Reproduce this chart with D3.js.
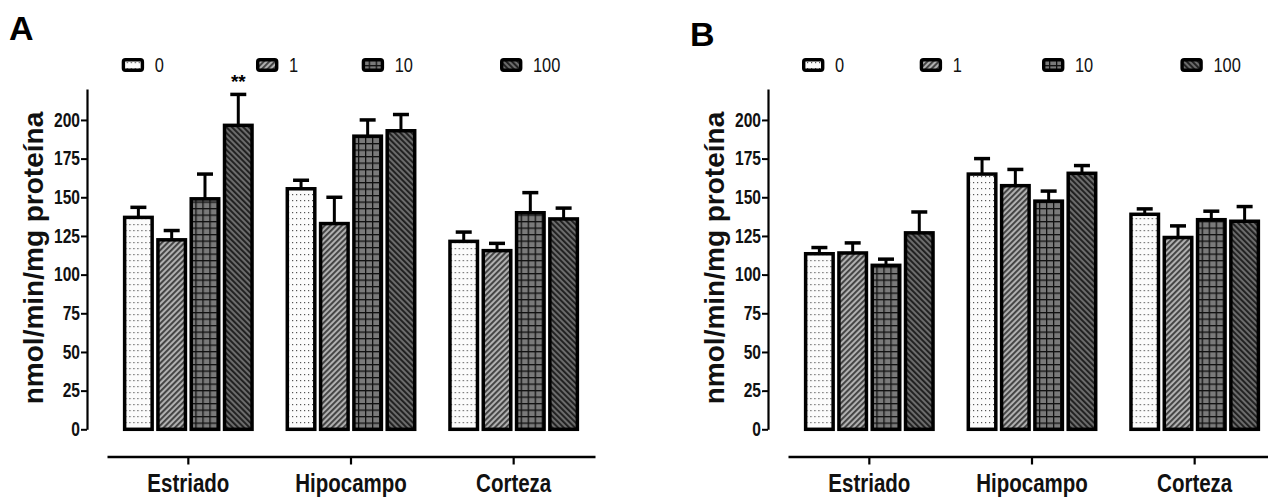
<!DOCTYPE html>
<html>
<head>
<meta charset="utf-8">
<script src="https://cdn.jsdelivr.net/npm/d3@7"></script>
<style>
  body { margin: 0; background: #fff; }
  svg { display: block; }
  .tick text { font-family: "Liberation Sans", Arial, sans-serif; font-weight: bold; }
</style>
</head>
<body>
<div id="chart"></div>
<script>
// categories and doses
var categories = ["Estriado", "Hipocampo", "Corteza"]
var doses = ["0", "1", "10", "100"]
var yTicks = [0, 25, 50, 75, 100, 125, 150, 175, 200]

// panel A: means and sem (rows = categories, cols = doses)
var meansA = [[137, 122.5, 149, 196.5], [155.5, 133, 189.5, 193], [121.5, 115.5, 140, 136]]
var semA = [[6.5, 6, 16, 20], [5.5, 17, 10.5, 10.5], [6, 4.7, 13, 7]]

// panel B
var meansB = [[113.5, 114, 106, 127], [165, 157.5, 147.5, 165.5], [139, 124, 135.5, 134.5]]
var semB = [[4, 6.5, 4, 13.5], [10, 10.5, 6.5, 5], [3.5, 7.5, 5.5, 9.5]]

var width = 1268, height = 497

var svg = d3.select("#chart").append("svg")
    .attr("width", width)
    .attr("height", height)

var defs = svg.append("defs")

// dotted (0)
var p0 = defs.append("pattern").attr("id", "pat0")
    .attr("patternUnits", "userSpaceOnUse").attr("width", 4).attr("height", 6)
p0.append("rect").attr("width", 4).attr("height", 6).attr("fill", "#fbfbfb")
p0.append("rect").attr("x", 1).attr("y", 2).attr("width", 1.2).attr("height", 1.2).attr("fill", "#555")

// light diagonal "/" (1)
var p1 = defs.append("pattern").attr("id", "pat1")
    .attr("patternUnits", "userSpaceOnUse").attr("width", 4).attr("height", 4)
    .attr("patternTransform", "rotate(45)")
p1.append("rect").attr("width", 4).attr("height", 4).attr("fill", "#b0b0b0")
p1.append("rect").attr("width", 1.9).attr("height", 4).attr("fill", "#404040")

// grid (10)
var p2 = defs.append("pattern").attr("id", "pat2")
    .attr("patternUnits", "userSpaceOnUse").attr("width", 7).attr("height", 6.5)
p2.append("rect").attr("width", 7).attr("height", 6.5).attr("fill", "#7a7a7a")
p2.append("rect").attr("width", 1.3).attr("height", 6.5).attr("fill", "#111")
p2.append("rect").attr("width", 7).attr("height", 1.3).attr("fill", "#111")

// dark diagonal "\" (100)
var p3 = defs.append("pattern").attr("id", "pat3")
    .attr("patternUnits", "userSpaceOnUse").attr("width", 4).attr("height", 4)
    .attr("patternTransform", "rotate(-45)")
p3.append("rect").attr("width", 4).attr("height", 4).attr("fill", "#6c6c6c")
p3.append("rect").attr("width", 1.9).attr("height", 4).attr("fill", "#1e1e1e")

var fills = ["url(#pat0)", "url(#pat1)", "url(#pat2)", "url(#pat3)"]

var y = d3.scaleLinear()
    .domain([0, 220])
    .range([429.3, 89])

// squeeze text horizontally, the original uses a narrow face
function condense(sel, k) {
	sel.each(function() {
		var w = this.getComputedTextLength()
		d3.select(this)
		    .attr("textLength", w * k)
		    .attr("lengthAdjust", "spacingAndGlyphs")
	})
}

function drawPanel(offsetX, letter, letterY, means, sems, legendX) {

	var g = svg.append("g").attr("transform", "translate(" + offsetX + ",0)")

	var axisX = 87

	var x0 = d3.scaleBand()
	    .domain(categories)
	    .range([107, 595])

	var x1 = d3.scaleBand()
	    .domain(doses)
	    .range([-63.7, 63.7])
	    .paddingInner(0.174)

	// panel letter
	g.append("text")
	    .attr("x", 9)
	    .attr("y", letterY)
	    .attr("font-family", "Liberation Sans, Arial, sans-serif")
	    .attr("font-weight", "bold")
	    .attr("font-size", 34)
	    .text(letter)

	// y axis
	var yAxis = g.append("g")
	    .attr("transform", "translate(" + axisX + ",0)")
	    .call(d3.axisLeft(y).tickValues(yTicks).tickSize(6).tickSizeOuter(0).tickPadding(1))

	yAxis.select(".domain").attr("stroke", "#000").attr("stroke-width", 2.2)
	yAxis.selectAll(".tick line").attr("stroke", "#000").attr("stroke-width", 2)
	yAxis.selectAll(".tick text").attr("font-size", 19.5).attr("fill", "#111").call(condense, 0.8)

	// y title
	g.append("text")
	    .attr("transform", "translate(43,258) rotate(-90)")
	    .attr("text-anchor", "middle")
	    .attr("font-family", "Liberation Sans, Arial, sans-serif")
	    .attr("font-weight", "bold")
	    .attr("font-size", 28)
	    .attr("fill", "#111")
	    .text("nmol/min/mg proteína")

	// x axis
	var xAxis = g.append("g")
	    .attr("transform", "translate(0,456.5)")
	    .call(d3.axisBottom(x0).tickSize(8).tickSizeOuter(0).tickPadding(9.5))

	xAxis.select(".domain").attr("stroke", "#000").attr("stroke-width", 2.5)
	xAxis.selectAll(".tick line").attr("stroke", "#000").attr("stroke-width", 2.2)
	xAxis.selectAll(".tick text").attr("font-size", 25).attr("fill", "#111").call(condense, 0.82)

	var groups = g.selectAll(".grp")
	    .data(categories)
	    .enter().append("g")
	    .attr("class", "grp")
	    .attr("transform", d => "translate(" + (x0(d) + x0.bandwidth() / 2) + ",0)")

	var rows = function(d, i) {
		return doses.map((dose, j) => ({ dose: dose, j: j, v: means[i][j], e: sems[i][j] }))
	}

	// error bars (upper only)
	groups.selectAll(".err")
	    .data(rows)
	    .enter().append("line")
	    .attr("x1", d => x1(d.dose) + x1.bandwidth() / 2)
	    .attr("x2", d => x1(d.dose) + x1.bandwidth() / 2)
	    .attr("y1", d => y(d.v))
	    .attr("y2", d => y(d.v + d.e))
	    .attr("stroke", "#000")
	    .attr("stroke-width", 3)

	groups.selectAll(".cap")
	    .data(rows)
	    .enter().append("line")
	    .attr("x1", d => x1(d.dose) + x1.bandwidth() / 2 - 8)
	    .attr("x2", d => x1(d.dose) + x1.bandwidth() / 2 + 8)
	    .attr("y1", d => y(d.v + d.e))
	    .attr("y2", d => y(d.v + d.e))
	    .attr("stroke", "#000")
	    .attr("stroke-width", 3.5)

	groups.selectAll(".bar")
	    .data(rows)
	    .enter().append("rect")
	    .attr("class", "bar")
	    .attr("x", d => x1(d.dose))
	    .attr("width", x1.bandwidth())
	    .attr("y", d => y(d.v))
	    .attr("height", d => y(0) - y(d.v))
	    .attr("fill", d => fills[d.j])
	    .attr("stroke", "#000")
	    .attr("stroke-width", 3.5)

	// legend (offsets measured from the y axis)
	var leg = g.selectAll(".leg")
	    .data(doses)
	    .enter().append("g")
	    .attr("class", "leg")
	    .attr("transform", (d, i) => "translate(" + (axisX + legendX[i]) + ",0)")

	leg.append("rect")
	    .attr("x", 1.7)
	    .attr("y", 59.7)
	    .attr("width", 19)
	    .attr("height", 10.6)
	    .attr("rx", 2)
	    .attr("fill", (d, i) => fills[i])
	    .attr("stroke", "#000")
	    .attr("stroke-width", 3.4)

	leg.append("text")
	    .attr("x", 33)
	    .attr("y", 71.5)
	    .attr("font-family", "Liberation Sans, Arial, sans-serif")
	    .attr("font-size", 20.5)
	    .attr("fill", "#111")
	    .text(d => d)
	    .call(condense, 0.8)

	return { g: g, x0: x0, x1: x1 }
}

var pa = drawPanel(0, "A", 40, meansA, semA, [34.7, 169, 274.7, 413])
drawPanel(681, "B", 46, meansB, semB, [34, 151.7, 274, 412.4])

// significance mark on Estriado / 100 in panel A
pa.g.append("text")
    .attr("x", pa.x0("Estriado") + pa.x0.bandwidth() / 2 + pa.x1("100") + pa.x1.bandwidth() / 2)
    .attr("y", 88)
    .attr("text-anchor", "middle")
    .attr("font-family", "Liberation Sans, Arial, sans-serif")
    .attr("font-weight", "bold")
    .attr("font-size", 19)
    .text("**")
</script>
</body>
</html>
